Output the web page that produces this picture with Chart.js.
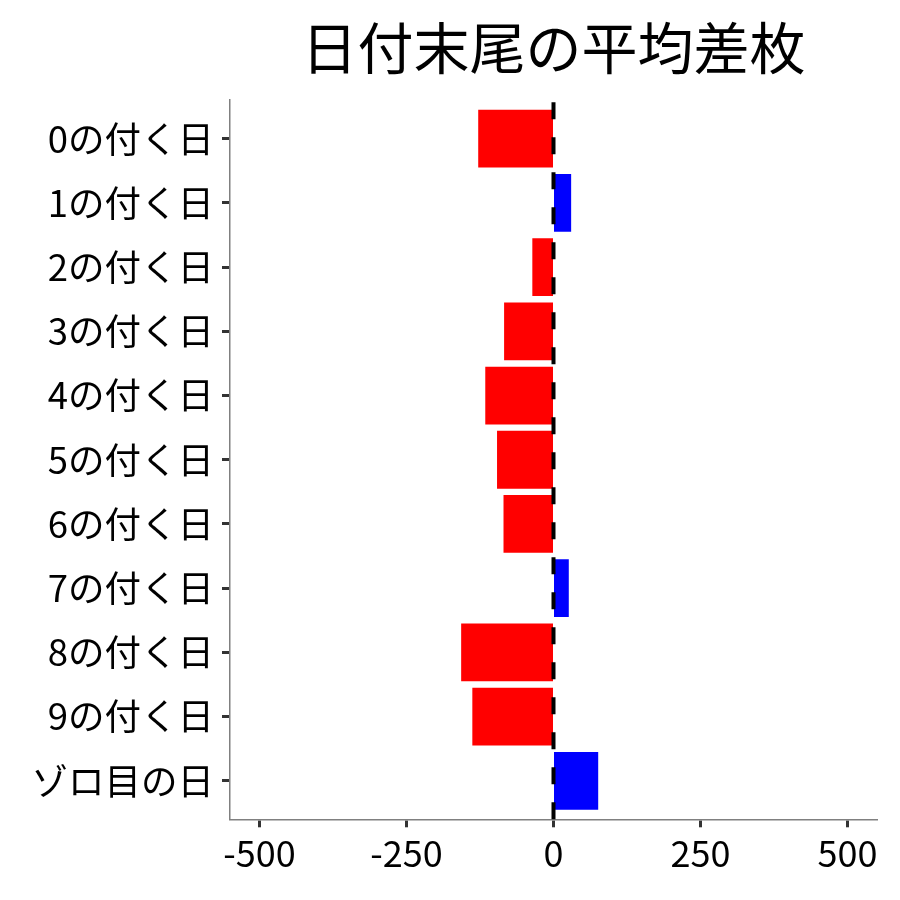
<!DOCTYPE html>
<html lang="ja">
<head>
<meta charset="utf-8">
<title>日付末尾の平均差枚</title>
<script src="https://cdn.jsdelivr.net/npm/chart.js@4.4.1/dist/chart.umd.min.js"></script>
<style>
    html, body { margin: 0; padding: 0; background: #ffffff; }
    #wrap { width: 900px; height: 900px; }
</style>
</head>
<body>
<div id="wrap"><canvas id="chart" width="900" height="900"></canvas></div>
<script>
// data
const categories = ['0の付く日', '1の付く日', '2の付く日', '3の付く日', '4の付く日',
    '5の付く日', '6の付く日', '7の付く日', '8の付く日', '9の付く日', 'ゾロ目の日'];
const avgDiff = [-128, 30, -36, -84, -116, -96, -85, 26, -157, -138, 76];
const xTicks = [-500, -250, 0, 250, 500];

const FONT = '"Noto Sans CJK JP", "Noto Sans", sans-serif';

// dashed reference line at x = 0, drawn over the bars
const zeroLine = {
    id: 'zeroLine',
    afterDatasetsDraw(chart) {
        const { ctx, chartArea, scales } = chart;
        const x = scales.x.getPixelForValue(0);
        ctx.save();
        ctx.strokeStyle = '#000000';
        ctx.lineWidth = 4;
        ctx.setLineDash([17, 18]);
        ctx.beginPath();
        ctx.moveTo(x, chartArea.bottom);
        ctx.lineTo(x, chartArea.top);
        ctx.stroke();
        ctx.restore();
    }
};

const ctx = document.getElementById('chart').getContext('2d');
new Chart(ctx, {
    type: 'bar',
    data: {
        labels: categories,
        datasets: [{
            label: '平均差枚',
            data: avgDiff,
            backgroundColor: avgDiff.map(v => v < 0 ? '#ff0000' : '#0000ff'),
            borderWidth: 0,
            categoryPercentage: 1,
            barPercentage: 0.9
        }]
    },
    options: {
        indexAxis: 'y',
        responsive: false,
        animation: false,
        layout: { padding: { top: 0, right: 23, bottom: 0, left: 0 } },
        plugins: {
            legend: { display: false },
            tooltip: { enabled: false },
            title: {
                display: true,
                text: '日付末尾の平均差枚',
                color: '#000000',
                fullSize: false,
                font: { family: FONT, size: 56, weight: 'normal', lineHeight: 1.2 },
                padding: { top: 14, bottom: 19 }
            }
        },
        scales: {
            x: {
                min: -550,
                max: 550,
                afterBuildTicks: (axis) => {
                    axis.ticks = xTicks.map(v => ({ value: v }));
                },
                afterFit: (axis) => { axis.height = 80.7; },
                border: { display: true, color: '#808080', width: 1.5 },
                grid: {
                    drawOnChartArea: false,
                    drawTicks: true,
                    tickLength: 8,
                    tickWidth: 3,
                    tickColor: '#333333'
                },
                ticks: {
                    color: '#000000',
                    padding: 4,
                    maxRotation: 0,
                    font: { family: FONT, size: 36 }
                }
            },
            y: {
                afterBuildTicks: (axis) => {
                    // ggplot-like discrete expansion of 0.6 on both ends
                    axis._startValue = -0.6;
                    axis._valueRange = categories.length - 1 + 1.2;
                },
                afterFit: (axis) => { axis.width = 230; },
                border: { display: true, color: '#808080', width: 1.5 },
                grid: {
                    offset: false,
                    drawOnChartArea: false,
                    drawTicks: true,
                    tickLength: 8,
                    tickWidth: 3,
                    tickColor: '#333333'
                },
                ticks: {
                    color: '#000000',
                    padding: 8,
                    font: { family: FONT, size: 36.5 }
                }
            }
        }
    },
    plugins: [zeroLine]
});
</script>
</body>
</html>
